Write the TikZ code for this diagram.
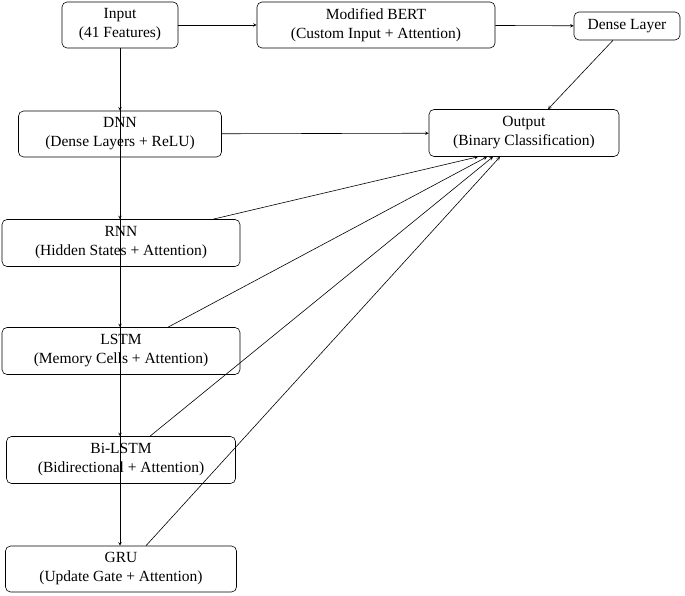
\documentclass[tikz,border=0pt]{standalone}
\usepackage{fontspec}
\setmainfont{Liberation Serif}
\usetikzlibrary{arrows,positioning}

\begin{document}
\begin{tikzpicture}[x=1pt, y=-1pt, thick, >=stealth,
    box/.style={draw, rounded corners=5pt, align=center, inner sep=2pt,
        font=\fontsize{15.5}{19}\selectfont, line width=0.6pt}]
    \useasboundingbox (0,0) rectangle (685,596);
    % Blocks
    \node[box, minimum width=116, minimum height=46] (input) at (120,25) {Input\\(41 Features)};
    \node[box, minimum width=238, minimum height=46] (bert) at (376,25) {Modified BERT\\(Custom Input + Attention)};
    \node[box, minimum width=106, minimum height=28] (dense) at (627,26) {Dense Layer};
    \node[box, minimum width=190, minimum height=47] (output) at (524,133) {Output\\(Binary Classification)};
    \node[box, minimum width=203, minimum height=46] (dnn) at (120,134) {DNN\\(Dense Layers + ReLU)};
    \node[box, minimum width=238, minimum height=47] (rnn) at (121,243) {RNN\\(Hidden States + Attention)};
    \node[box, minimum width=238, minimum height=47] (lstm) at (121,351) {LSTM\\(Memory Cells + Attention)};
    \node[box, minimum width=229, minimum height=47] (bilstm) at (121,460) {Bi-LSTM\\(Bidirectional + Attention)};
    \node[box, minimum width=231, minimum height=46] (gru) at (121,569) {GRU\\(Update Gate + Attention)};

    % Connections
    \foreach \m in {dnn,rnn,lstm,bilstm,gru}
        \draw[->, line width=0.6pt] (input.south) -- (input.south |- \m.north);
    \draw[->, line width=0.6pt] (input) -- (bert);
    \draw[->, line width=0.6pt] (bert) -- (dense);
    \draw[->, line width=0.6pt] ([xshift=-14pt]dense.south) -- ([xshift=24pt]output.north);
    \draw[->, line width=0.6pt] (dnn) -- (output);
    \draw[->, line width=0.6pt] ([xshift=92pt]rnn.north) -- ([xshift=-46pt]output.south);
    \draw[->, line width=0.6pt] ([xshift=47pt]lstm.north) -- ([xshift=-37pt]output.south);
    \draw[->, line width=0.6pt] ([xshift=29pt]bilstm.north) -- ([xshift=-31pt]output.south);
    \draw[->, line width=0.6pt] ([xshift=25pt]gru.north) -- ([xshift=-24pt]output.south);
\end{tikzpicture}
\end{document}
